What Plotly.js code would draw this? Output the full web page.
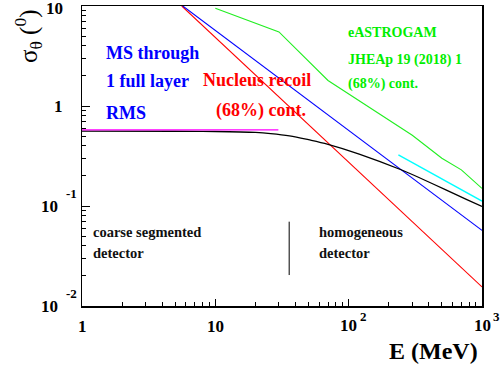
<!DOCTYPE html>
<html>
<head>
<meta charset="utf-8">
<script src="https://cdn.plot.ly/plotly-3.0.1.min.js"></script>
<style>html,body{margin:0;padding:0;background:#fff;}#chart{width:501px;height:370px;}</style>
</head>
<body>
<div id="chart"></div>
<script>
// ---- data ----
const msE = [5.7, 1000];
const msSigma = [10, 0.057];
const recoilE = [5.6, 1000];
const recoilSigma = [10, 0.0155];
const astrogamE = [10, 30, 70, 300, 500, 700, 1000];
const astrogamSigma = [9.5, 5.5, 1.8, 0.51, 0.30, 0.23, 0.15];
const blackE = [1, 5, 10, 20, 26, 36, 50, 70, 120, 250, 430, 770, 1000];
const blackSigma = [0.56, 0.559, 0.556, 0.544, 0.53, 0.503, 0.46, 0.414, 0.331, 0.229, 0.166, 0.116, 0.099];
const magentaE = [1, 29.7];
const magentaSigma = [0.578, 0.578];
const cyanE = [236, 1000];
const cyanSigma = [0.324, 0.112];
const dividerE = [35.8, 35.8];
const dividerSigma = [0.0697, 0.0204];

const xTickVals = [1, 10, 100, 1000];
const xTickBase = ['1', '10', '10', '10'];
const xTickExp = ['', '', '2', '3'];
const yTickVals = [0.01, 0.1, 1, 10];
const yTickBase = ['10', '10', '1', '10'];
const yTickExp = ['-2', '-1', '', ''];

const labelTexts = ['MS through', '1 full layer', 'RMS', 'Nucleus recoil', '(68%) cont.',
  'eASTROGAM', 'JHEAp 19 (2018) 1', '(68%) cont.',
  'coarse segmented', 'detector', 'homogeneous', 'detector'];

// ---- styles / positions ----
const FONT = '"Liberation Serif", "Times New Roman", Times, serif';
const labelStyle = [
  {px: 106, py: 53, c: '#0000ff', s: 18},
  {px: 106, py: 81, c: '#0000ff', s: 18},
  {px: 106, py: 112.5, c: '#0000ff', s: 18},
  {px: 202.7, py: 80, c: '#ff0000', s: 18},
  {px: 215.7, py: 110, c: '#ff0000', s: 18},
  {px: 348.3, py: 33, c: '#00ee00', s: 14},
  {px: 348.3, py: 60.5, c: '#00ee00', s: 14},
  {px: 348.3, py: 84, c: '#00ee00', s: 14},
  {px: 92.7, py: 231.5, c: '#111111', s: 14.5},
  {px: 92.7, py: 253, c: '#111111', s: 14.5},
  {px: 319, py: 231.5, c: '#111111', s: 14.5},
  {px: 319, py: 253, c: '#111111', s: 14.5}
];
const L = 82, R = 482, T = 6, B = 306;
const pX = px => (px - L) / (R - L);
const pY = py => (B - py) / (B - T);

function line(x, y, color, width, shape) {
  return {x: x, y: y, type: 'scatter', mode: 'lines', hoverinfo: 'skip',
    line: {color: color, width: width, shape: shape || 'linear'}, showlegend: false};
}
const traces = [
  line(recoilE, recoilSigma, '#ff0000', 1.1),
  line(msE, msSigma, '#0000ff', 1.1),
  line(astrogamE, astrogamSigma, '#22ee22', 1.1),
  line(blackE, blackSigma, '#000000', 1.3, 'spline'),
  line(magentaE, magentaSigma, '#ff00ff', 1.3),
  line(cyanE, cyanSigma, '#00ffff', 1.4),
  line(dividerE, dividerSigma, '#000000', 1)
];

const ann = [];
labelTexts.forEach((t, i) => {
  const st = labelStyle[i];
  ann.push({text: '<b>' + t + '</b>', xref: 'paper', yref: 'paper', x: pX(st.px - 2), y: pY(st.py),
    xanchor: 'left', yanchor: 'middle', showarrow: false,
    font: {family: FONT, size: st.s, color: st.c, weight: 'bold'}});
});
// x tick labels
xTickVals.forEach((v, i) => {
  ann.push({text: '<b>' + xTickBase[i] + '</b>', xref: 'x', yref: 'paper', x: Math.log10(v), y: 0,
    xanchor: 'center', yanchor: 'middle', yshift: xTickExp[i] ? -19 : -20, showarrow: false,
    font: {family: FONT, size: 17, color: '#000'}});
  if (xTickExp[i]) {
    ann.push({text: '<b>' + xTickExp[i] + '</b>', xref: 'x', yref: 'paper', x: Math.log10(v), y: 0,
      xanchor: 'left', yanchor: 'middle', xshift: 9, yshift: -10, showarrow: false,
      font: {family: FONT, size: 13, color: '#000'}});
  }
});
// y tick labels
yTickVals.forEach((v, i) => {
  const hasExp = !!yTickExp[i];
  ann.push({text: '<b>' + yTickBase[i] + '</b>', xref: 'paper', yref: 'y', x: 0, y: Math.log10(v),
    xanchor: 'right', yanchor: 'middle', xshift: hasExp ? -22 : -17, yshift: v === 10 ? -2 : 0, showarrow: false,
    font: {family: FONT, size: 17, color: '#000'}});
  if (hasExp) {
    ann.push({text: '<b>' + yTickExp[i] + '</b>', xref: 'paper', yref: 'y', x: 0, y: Math.log10(v),
      xanchor: 'left', yanchor: 'middle', xshift: -18, yshift: 13, showarrow: false,
      font: {family: FONT, size: 13, color: '#000'}});
  }
});
// axis titles
ann.push({text: '<b>E (MeV)</b>', xref: 'paper', yref: 'paper', x: pX(480), y: pY(350.5),
  xanchor: 'right', yanchor: 'middle', showarrow: false, font: {family: FONT, size: 24, color: '#000'}});
ann.push({text: 'σ<sub>θ</sub> (<sup>0</sup>)', xref: 'paper', yref: 'paper', x: pX(28), y: pY(36),
  xanchor: 'center', yanchor: 'middle', textangle: -90, showarrow: false, font: {family: FONT, size: 25, color: '#000'}});

const axisCommon = {
  type: 'log', showgrid: false, zeroline: false, showline: true, mirror: true,
  linecolor: '#000', linewidth: 1.5, ticks: 'inside', tickcolor: '#000', tickwidth: 1,
  dtick: 1, showticklabels: false,
  minor: {ticks: 'inside', ticklen: 4, tickcolor: '#000', tickwidth: 1, dtick: 'D1', showgrid: false}
};
const layout = {
  width: 501, height: 370,
  margin: {l: L, r: 501 - R, t: T, b: 370 - B},
  paper_bgcolor: '#fff', plot_bgcolor: '#fff',
  showlegend: false,
  xaxis: Object.assign({}, axisCommon, {range: [0, 3], ticklen: 7}),
  yaxis: Object.assign({}, axisCommon, {range: [-2, 1], ticklen: 8}),
  annotations: ann
};
Plotly.newPlot('chart', traces, layout, {staticPlot: true, displayModeBar: false});
</script>
</body>
</html>
